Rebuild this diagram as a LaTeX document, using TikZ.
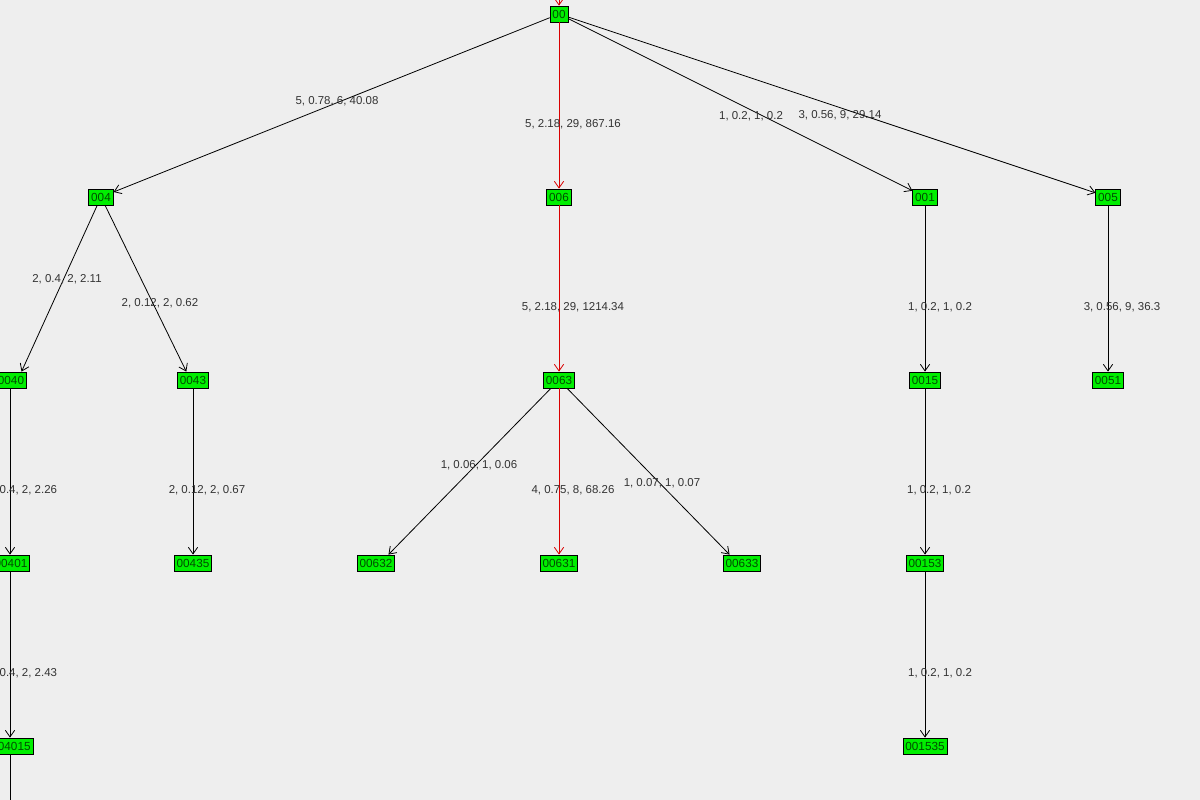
\documentclass[tikz,border=0pt]{standalone}
\usepackage{fontspec}
\setmainfont{Liberation Sans}
\usetikzlibrary{arrows.meta}
\definecolor{bg}{HTML}{EEEEEE}
\definecolor{ng}{HTML}{00EE00}
\definecolor{lbl}{HTML}{333333}
\tikzset{
 nd/.style={draw=black,fill=ng,font=\fontsize{8.8}{10}\selectfont,text=black!70!green,inner xsep=1.8pt,inner ysep=1.2pt,minimum height=12pt,line width=0.6pt},
 ed/.style={-{Straight Barb[length=5pt,width=7pt]},line width=0.6pt},
 red/.style={ed,draw=red!85!black},
 lb/.style={font=\fontsize{8.6}{10}\selectfont,text=lbl}
}
\begin{document}
\begin{tikzpicture}[x=0.75pt,y=-0.75pt]
\fill[bg] (0,0) rectangle (1200,800);
\clip (0,0) rectangle (1200,800);
\useasboundingbox (0,0) rectangle (1200,800);
\node[nd] (n00) at (559,14) {00};
\node[nd] (n004) at (101,197) {004};
\node[nd] (n006) at (559,197) {006};
\node[nd] (n001) at (925,197) {001};
\node[nd] (n005) at (1108,197) {005};
\node[nd] (n0040) at (11,380) {0040};
\node[nd] (n0043) at (193,380) {0043};
\node[nd] (n0063) at (559,380) {0063};
\node[nd] (n0015) at (925,380) {0015};
\node[nd] (n0051) at (1108,380) {0051};
\node[nd] (n00401) at (11,563) {00401};
\node[nd] (n00435) at (193,563) {00435};
\node[nd] (n00632) at (376,563) {00632};
\node[nd] (n00631) at (559,563) {00631};
\node[nd] (n00633) at (742,563) {00633};
\node[nd] (n00153) at (925,563) {00153};
\node[nd] (n004015) at (11,746) {004015};
\node[nd] (n001535) at (925,746) {001535};
\coordinate (top) at (559,-10);
\coordinate (bot) at (10,810);
\draw[red] (top) -- (n00);
\draw[ed] (n00) -- (n004);
\draw[red] (n00) -- (n006);
\draw[ed] (n00) -- (n001);
\draw[ed] (n00) -- (n005);
\draw[ed] (n004) -- ([xshift=-4pt]n0040.north east);
\draw[ed] (n004) -- ([xshift=-5pt]n0043.north);
\draw[red] (n006) -- (n0063);
\draw[ed] (n001) -- (n0015);
\draw[ed] (n005) -- (n0051);
\draw[ed] (n0040.south west -| 10,0) -- (n00401.north west -| 10,0);
\draw[ed] (n0043) -- (n00435);
\draw[ed] (n0063) -- ([xshift=-5pt]n00632.north east);
\draw[red] (n0063) -- (n00631);
\draw[ed] (n0063) -- ([xshift=5pt]n00633.north west);
\draw[ed] (n0015) -- (n00153);
\draw[ed] (n00401.south west -| 10,0) -- (n004015.north west -| 10,0);
\draw[ed] (n00153) -- (n001535);
\draw[line width=0.6pt] (n004015.south west -| 10,0) -- (bot);
\node[lb] (l1) at (337,101) {5, 0.78, 6, 40.08};
\node[lb] (l2) at (573,124) {5, 2.18, 29, 867.16};
\node[lb] (l3) at (751,116) {1, 0.2, 1, 0.2};
\node[lb] (l4) at (840,115) {3, 0.56, 9, 29.14};
\node[lb] (l5) at (67,279) {2, 0.4, 2, 2.11};
\node[lb] (l6) at (160,303) {2, 0.12, 2, 0.62};
\node[lb] (l7) at (573,307) {5, 2.18, 29, 1214.34};
\node[lb] (l8) at (940,307) {1, 0.2, 1, 0.2};
\node[lb] (l9) at (1122,307) {3, 0.56, 9, 36.3};
\node[lb] (l10) at (22,490) {2, 0.4, 2, 2.26};
\node[lb] (l11) at (207,490) {2, 0.12, 2, 0.67};
\node[lb] (l12) at (479,465) {1, 0.06, 1, 0.06};
\node[lb] (l13) at (573,490) {4, 0.75, 8, 68.26};
\node[lb] (l14) at (662,483) {1, 0.07, 1, 0.07};
\node[lb] (l15) at (939,490) {1, 0.2, 1, 0.2};
\node[lb] (l16) at (22,673) {2, 0.4, 2, 2.43};
\node[lb] (l17) at (940,673) {1, 0.2, 1, 0.2};
\end{tikzpicture}
\end{document}
